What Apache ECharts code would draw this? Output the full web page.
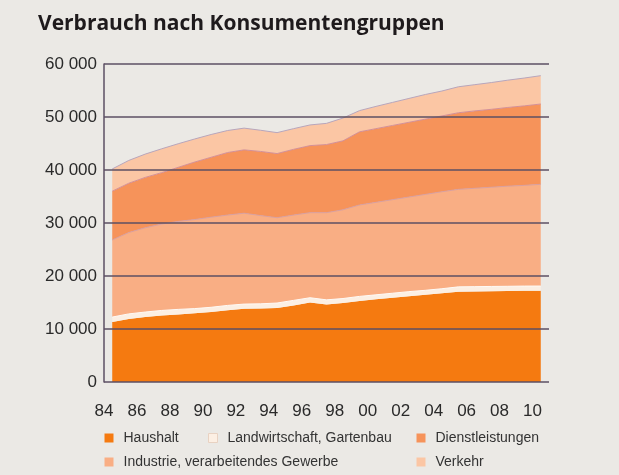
<!DOCTYPE html>
<html>
<head>
<meta charset="utf-8">
<script src="https://cdn.jsdelivr.net/npm/echarts@6/dist/echarts.min.js"></script>
<style>
html,body{margin:0;padding:0;background:#ebe9e5;}
#c{width:619px;height:475px;}
</style>
</head>
<body>
<div id="c"></div>
<script>
const titleText = 'Verbrauch nach Konsumentengruppen';
const years = [1984,1985,1986,1987,1988,1989,1990,1991,1992,1993,1994,1995,1996,1997,1998,1999,2000,2001,2002,2003,2004,2005,2006,2007,2008,2009,2010];
const seriesNames = ['Haushalt','Landwirtschaft, Gartenbau','Industrie, verarbeitendes Gewerbe','Dienstleistungen','Verkehr'];
const haushalt = [11300,11900,12250,12550,12750,12950,13200,13550,13800,13850,13950,14450,15000,14600,14900,15300,15600,15900,16200,16450,16750,17050,17090,17130,17160,17200,17230];
const landwirtschaft = [950,950,950,950,950,900,900,900,900,900,950,950,900,900,850,850,850,850,850,850,850,900,900,900,900,900,880];
const industrie = [14550,15350,15900,16300,16600,16800,17000,17050,17150,16650,16100,16100,16050,16450,16750,17250,17450,17650,17850,18100,18300,18400,18560,18720,18890,19000,19190];
const dienstleistungen = [9200,9300,9500,9700,10200,10850,11300,11800,11950,12100,12100,12400,12650,12850,13000,13800,13900,14000,14100,14200,14300,14450,14600,14700,14850,15000,15150];
const verkehr = [4200,4300,4400,4500,4450,4350,4300,4150,4100,4000,3950,3900,3900,4000,4300,4000,4200,4350,4500,4650,4700,4900,4950,5050,5150,5250,5350];
const xTickLabels = ['84','86','88','90','92','94','96','98','00','02','04','06','08','10'];
const yTickLabels = ['0','10 000','20 000','30 000','40 000','50 000','60 000'];

const colors = ['#f57a10','#fcefe3','#f9ae84','#f6935a','#fbc6a4'];
const edgeColors = ['#f57a10','#fffaf5','#d9a0a0','#d49098','#b8a6bc'];
const values = [haushalt, landwirtschaft, industrie, dienstleistungen, verkehr];

const chart = echarts.init(document.getElementById('c'), null, {renderer:'canvas'});
const font = 'Liberation Sans';

const series = seriesNames.map((n, k) => ({
  name: n,
  type: 'line',
  stack: 'total',
  xAxisIndex: 0,
  showSymbol: false,
  symbol: 'none',
  smooth: false,
  lineStyle: {width: k === 0 ? 0 : 1, color: edgeColors[k]},
  itemStyle: {color: colors[k]},
  areaStyle: {color: colors[k], opacity: 1},
  data: values[k],
  z: 2
}));

function legendAt(name, left, top) {
  return {
    data: [{name: name, icon: 'rect', itemStyle: {color: colors[seriesNames.indexOf(name)], borderColor: name === seriesNames[1] ? '#e8d2c2' : 'transparent', borderWidth: 1}}],
    left: left, top: top,
    itemWidth: 9, itemHeight: 9,
    padding: 0,
    selectedMode: false,
    textStyle: {fontFamily: font, fontSize: 14, color: '#333', padding: [0,0,0,5]}
  };
}

chart.setOption({
  backgroundColor: '#ebe9e5',
  animation: false,
  title: {
    text: titleText,
    left: 33, top: 9,
    textStyle: {fontFamily: 'Open Sans', fontWeight: 'bold', fontSize: 21, color: '#1e1a1c'}
  },
  legend: [
    legendAt(seriesNames[0], 104, 431),
    legendAt(seriesNames[1], 208, 431),
    legendAt(seriesNames[3], 416, 431),
    legendAt(seriesNames[2], 104, 455),
    legendAt(seriesNames[4], 416, 455)
  ],
  grid: {left: 104, right: 70, top: 64, bottom: 93},
  xAxis: [
    {
      type: 'category', data: years.map(String), boundaryGap: true,
      axisLine: {show: false}, axisTick: {show: false}, splitLine: {show: false},
      axisLabel: {show: false}
    },
    {
      type: 'value', min: 1984, max: 2011, interval: 2, position: 'bottom',
      axisLine: {show: false}, axisTick: {show: false}, splitLine: {show: false},
      axisLabel: {
        showMaxLabel: false,
        margin: 21, fontSize: 17, fontFamily: font, color: '#2a2a2a',
        formatter: v => { const d = v - 1984; const i = Math.round(d / 2); return d % 2 === 0 && xTickLabels[i] !== undefined ? xTickLabels[i] : ''; }
      }
    }
  ],
  yAxis: {
    type: 'value', min: 0, max: 60000, interval: 10000, z: 5,
    axisLine: {show: true, lineStyle: {color: '#5d4f63', width: 1.5}},
    axisTick: {show: false},
    splitLine: {show: true, lineStyle: {color: '#5d4f63', width: 1.5}},
    axisLabel: {
      margin: 7, fontSize: 17, fontFamily: font, color: '#2a2a2a',
      formatter: v => yTickLabels[Math.round(v / 10000)]
    }
  },
  series: series
});
</script>
</body>
</html>
